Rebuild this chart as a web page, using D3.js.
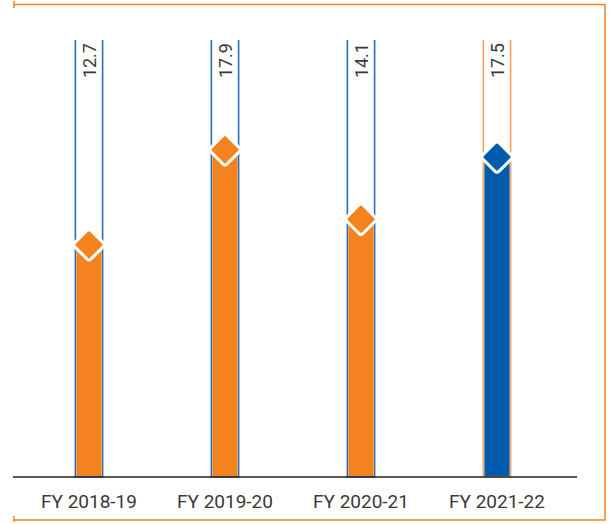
<!DOCTYPE html>
<html lang="en">
<head>
<meta charset="UTF-8">
<title>FY chart</title>
<script src="https://d3js.org/d3.v7.min.js"></script>
<style>
  body { margin: 0; background: #fff; }
  text { font-family: Roboto, "Noto Sans", sans-serif; fill: #3a3a3a; }
</style>
</head>
<body>
<svg width="612" height="524"></svg>
<script>
// data
const years = ['FY 2018-19', 'FY 2019-20', 'FY 2020-21', 'FY 2021-22'];
const values = [12.7, 17.9, 14.1, 17.5];
const labels = ['12.7', '17.9', '14.1', '17.5'];

const orange = '#f4821f';
const blue = '#005baa';

const svg = d3.select('svg');

// frame (top, right, bottom, small ticks on the left)
const frame = svg.append('g').attr('stroke', orange).attr('stroke-width', 1.5).attr('fill', 'none');
frame.append('path').attr('d', 'M14,4.5 H605 V520 H14');
frame.append('line').attr('x1', 14).attr('x2', 14).attr('y1', 1).attr('y2', 8);
frame.append('line').attr('x1', 14).attr('x2', 14).attr('y1', 516).attr('y2', 522);

const x = d3.scaleBand()
    .domain(years)
    .range([21, 565])
    .paddingInner(0.8)
    .paddingOuter(0.4);

const yMax = 23.9;
const y = d3.scaleLinear()
    .domain([0, yMax])
    .range([477, 40]);

const colW = x.bandwidth();

const g = svg.selectAll('.col')
    .data(years)
    .enter()
    .append('g')
    .attr('class', 'col');

// column sides (open at the top)
g.append('path')
    .attr('d', d => `M${x(d)},${y(yMax)} V${y(0)} H${x(d) + colW} V${y(yMax)}`)
    .attr('fill', 'none')
    .attr('stroke', (d, i) => i === 3 ? '#f7a15c' : '#2a6fb6')
    .attr('stroke-width', 1.6);

// filled part
g.append('rect')
    .attr('x', d => x(d) + 1)
    .attr('y', (d, i) => y(values[i]))
    .attr('width', colW - 2)
    .attr('height', (d, i) => y(0) - y(values[i]) - 1)
    .attr('fill', (d, i) => i === 3 ? blue : orange);

// diamond markers with rounded corners
const s = 11.5;
const r = 3;
const diamond = `M${-s + r},${-s} H${s - r} Q${s},${-s} ${s},${-s + r} V${s - r} Q${s},${s} ${s - r},${s} H${-s + r} Q${-s},${s} ${-s},${s - r} V${-s + r} Q${-s},${-s} ${-s + r},${-s} Z`;
g.append('path')
    .attr('transform', (d, i) => `translate(${x(d) + colW / 2},${y(values[i])}) rotate(45)`)
    .attr('d', diamond)
    .attr('fill', (d, i) => i === 3 ? blue : orange)
    .attr('stroke', '#fff')
    .attr('stroke-width', 3);

// value labels, rotated
g.append('text')
    .attr('transform', d => `translate(${x(d) + colW / 2 + 6.5},43) rotate(-90)`)
    .attr('text-anchor', 'end')
    .attr('font-size', '18px')
    .text((d, i) => labels[i]);

// baseline
svg.append('line')
    .attr('x1', 13).attr('x2', 577)
    .attr('y1', y(0)).attr('y2', y(0))
    .attr('stroke', '#222')
    .attr('stroke-width', 1.5);

// category labels
svg.selectAll('.xl')
    .data(years)
    .enter()
    .append('text')
    .attr('class', 'xl')
    .attr('x', d => x(d) + colW / 2)
    .attr('y', 508)
    .attr('text-anchor', 'middle')
    .attr('font-size', '19px')
    .text(d => d);
</script>
</body>
</html>
